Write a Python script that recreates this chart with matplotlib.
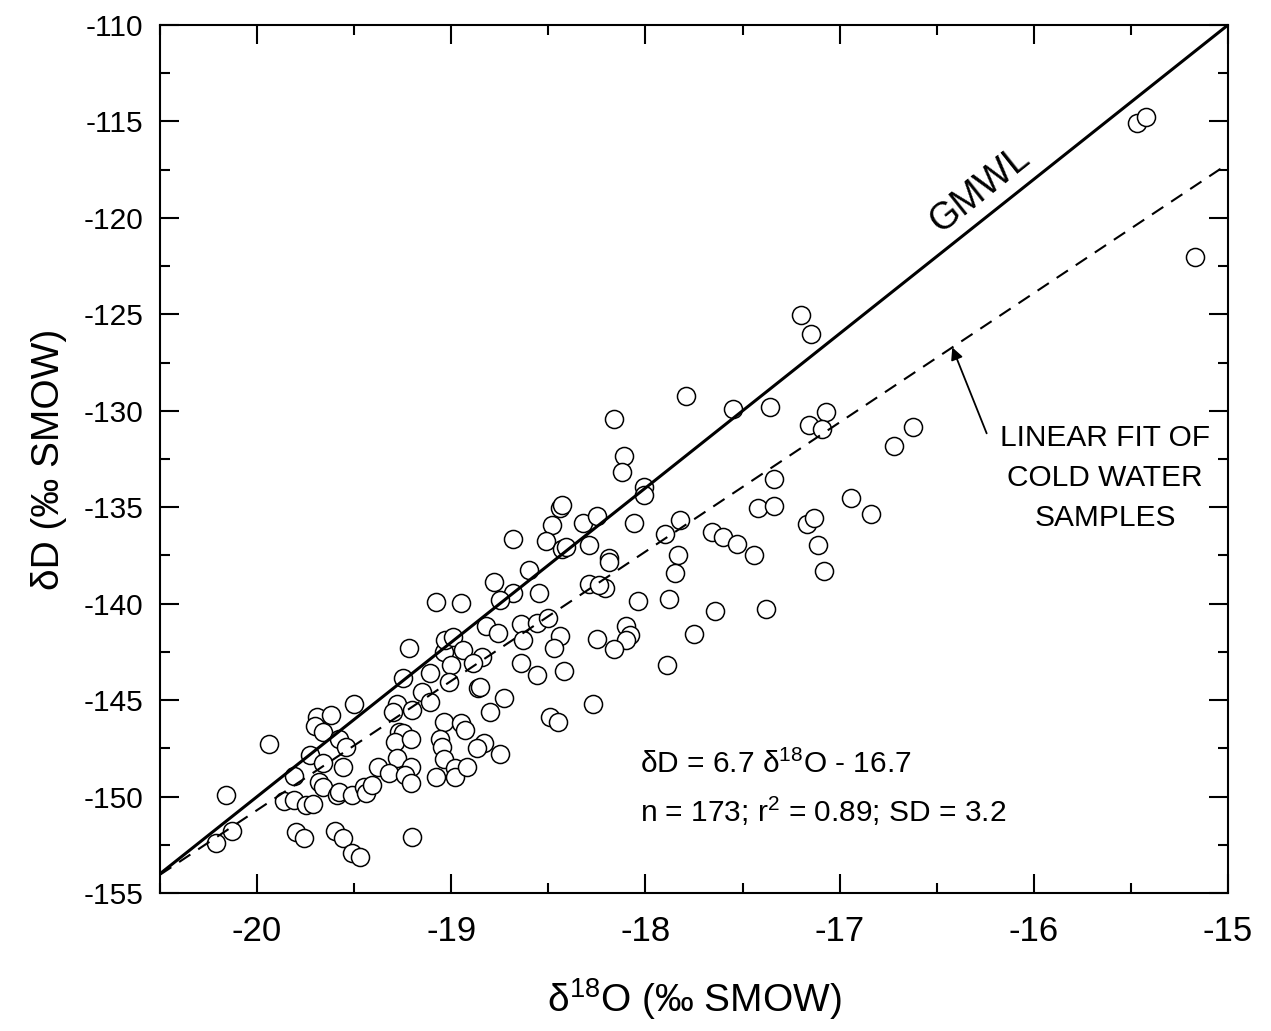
import matplotlib
matplotlib.use("Agg")
import numpy as np
import matplotlib.pyplot as plt
from matplotlib.ticker import MultipleLocator

plt.rcParams["font.family"] = ["Liberation Sans", "DejaVu Sans"]
plt.rcParams["mathtext.default"] = "regular"
plt.rcParams["axes.unicode_minus"] = False

# sample values (d18O, dD in permil SMOW)
d18o = [
    -19.22, -19.04, -19.03, -18.99, -19.25, -19.11, -19.00, -19.01, -19.50, -19.69,
    -19.62, -19.70, -19.66, -19.28, -19.30, -19.15, -19.11, -19.20, -19.94, -19.58,
    -19.54, -19.27, -19.25, -19.29, -19.21, -19.04, -18.95, -18.93, -19.06, -19.05,
    -19.73, -19.66, -19.56, -19.28, -19.38, -19.32, -19.21, -19.24, -19.21, -19.04,
    -18.98, -19.08, -18.98, -19.81, -19.68, -19.66, -19.59, -19.58, -19.51, -19.45,
    -19.44, -19.41, -20.16, -19.86, -19.81, -19.75, -19.71, -20.13, -20.21, -19.80,
    -19.76, -19.60, -19.56, -19.51, -19.47, -19.20,
    -18.44, -18.43, -18.48, -18.32, -18.25, -18.06, -18.01, -18.01, -18.68, -18.51,
    -18.43, -18.41, -18.29, -18.19, -18.19, -18.60, -18.78, -18.68, -18.75, -18.55,
    -18.29, -18.21, -18.24, -18.04, -19.08, -18.95, -18.82, -18.76, -18.64, -18.56,
    -18.50, -18.63, -18.44, -18.47, -18.25, -18.10, -18.08, -18.10, -18.16, -18.94,
    -18.84, -18.89, -18.64, -18.56, -18.42, -18.86, -18.85, -18.73, -18.80, -18.27,
    -18.49, -18.45, -18.83, -18.87, -18.75, -18.92,
    -17.79, -18.16, -17.55, -17.36, -17.16, -17.07, -17.09, -16.72, -18.11, -18.12,
    -17.34, -17.42, -17.34, -16.94, -16.84, -17.82, -17.90, -17.66, -17.60, -17.53,
    -17.44, -17.17, -17.13, -17.11, -17.08, -17.83, -17.85, -17.88, -17.64, -17.38,
    -17.75, -17.89,
    -17.20, -17.15, -16.62, -15.47, -15.42, -15.17,
]
dD = [
    -142.31, -142.50, -141.88, -141.74, -143.87, -143.61, -143.18, -144.04, -145.20, -145.89,
    -145.79, -146.34, -146.64, -145.20, -145.60, -144.56, -145.08, -145.51, -147.29, -147.01,
    -147.44, -146.64, -146.72, -147.15, -147.01, -146.12, -146.17, -146.55, -147.03, -147.41,
    -147.84, -148.24, -148.48, -148.02, -148.48, -148.79, -148.48, -148.88, -149.31, -148.07,
    -148.53, -149.00, -148.97, -148.92, -149.23, -149.49, -149.92, -149.75, -149.92, -149.49,
    -149.83, -149.40, -149.92, -150.21, -150.18, -150.44, -150.38, -151.77, -152.42, -151.82,
    -152.16, -151.77, -152.16, -152.91, -153.11, -152.11,
    -135.05, -134.88, -135.92, -135.83, -135.45, -135.83, -133.93, -134.37, -136.66, -136.73,
    -137.18, -137.04, -136.96, -137.65, -137.82, -138.25, -138.86, -139.46, -139.81, -139.46,
    -138.98, -139.20, -139.03, -139.84, -139.90, -139.98, -141.16, -141.50, -141.05, -140.98,
    -140.76, -141.88, -141.67, -142.31, -141.85, -141.16, -141.62, -141.88, -142.36, -142.40,
    -142.75, -143.09, -143.09, -143.70, -143.47, -144.39, -144.33, -144.90, -145.60, -145.20,
    -145.89, -146.12, -147.21, -147.50, -147.79, -148.45,
    -129.23, -130.44, -129.92, -129.82, -130.74, -130.05, -130.96, -131.82, -132.34, -133.16,
    -133.55, -135.05, -134.94, -134.54, -135.35, -135.66, -136.39, -136.27, -136.56, -136.90,
    -137.48, -135.87, -135.57, -136.96, -138.29, -137.48, -138.42, -139.77, -140.36, -140.29,
    -141.57, -143.18,
    -125.03, -126.02, -130.82, -115.06, -114.79, -122.01,
]

# global meteoric water line and linear fit of the cold water samples
gmwl_slope, gmwl_icpt = 8.0, 10.0
fit_slope, fit_icpt = 6.7, -16.7

fig = plt.figure(figsize=(12.71, 10.31), dpi=100)
ax = fig.add_axes([0.1259, 0.1338, 0.8403, 0.8420])

ax.plot(d18o, dD, "o", ms=13, mfc="white", mec="black", mew=1.1, zorder=2)

xx = np.array([-20.5, -15.0])
ax.plot(xx, gmwl_slope * xx + gmwl_icpt, color="black", lw=2.2, zorder=3)
ax.plot(xx, fit_slope * xx + fit_icpt, color="black", lw=1.5,
        dashes=(6.5, 4.5), zorder=3)

ax.set_xlim(-20.5, -15)
ax.set_ylim(-155, -110)
ax.xaxis.set_major_locator(MultipleLocator(1))
ax.xaxis.set_minor_locator(MultipleLocator(0.5))
ax.yaxis.set_major_locator(MultipleLocator(5))
ax.yaxis.set_minor_locator(MultipleLocator(2.5))
ax.tick_params(which="both", direction="in", top=True, right=True, width=1.5)
ax.tick_params(which="major", length=13.5)
ax.tick_params(which="minor", length=7)
ax.tick_params(axis="y", labelsize=21.5, pad=12)
ax.tick_params(axis="x", labelsize=25, pad=16)
for sp in ax.spines.values():
    sp.set_linewidth(1.5)

ax.set_xlabel("δ$^{18}$O (‰ SMOW)", fontsize=28, labelpad=20)
ax.set_ylabel("δD (‰ SMOW)", fontsize=28, labelpad=12)

ax.text(-16.28, -118.55, "GMWL", fontsize=27, rotation=38.5,
        ha="center", va="center")

ax.text(-15.634, -133.48, "LINEAR FIT OF\nCOLD WATER\nSAMPLES", ha="center",
        va="center", fontsize=21.5, linespacing=1.55)
ax.annotate("", xy=(-16.42, fit_slope * -16.42 + fit_icpt), xytext=(-16.243, -131.17),
            arrowprops=dict(arrowstyle="-|>", color="black", lw=1.3,
                            mutation_scale=18, shrinkA=0, shrinkB=0))

ax.text(-18.03, -148.78, "δD = 6.7 δ$^{18}$O - 16.7", fontsize=21.5, va="baseline")
ax.text(-18.03, -151.32, "n = 173; r$^{2}$ = 0.89; SD = 3.2", fontsize=21.5,
        va="baseline")

fig.savefig("out.png", dpi=100)
